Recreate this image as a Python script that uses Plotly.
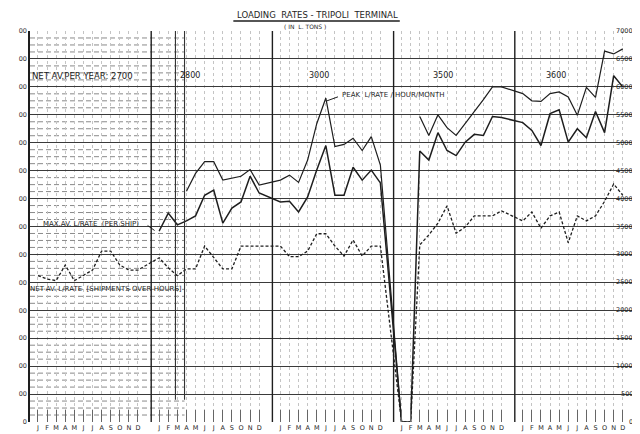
import plotly.graph_objects as go

months = ["J", "F", "M", "A", "M", "J", "J", "A", "S", "O", "N", "D"]
n_years = 5

# Peak loading rate per hour per month (L. tons)
peak = [None] * 12 + \
    [None, None, None, 4130, 4450, 4660, 4660, 4330, 4360, 4400, 4520, 4240] + \
    [4330, 4420, 4290, 4690, 5340, 5800, 4930, 4970, 5080, 4860, 5110, 4600] + \
    [0, None, 5470, 5130, 5500, 5270, 5130, 5340, 5540, 5770, 6000, 6000] + \
    [5880, 5750, 5740, 5880, 5910, 5820, 5490, 5990, 5810, 6640, 6590, 6680]

# Max average loading rate per ship
max_av = [None] * 12 + \
    [3420, 3740, 3530, 3600, 3690, 4060, 4150, 3560, 3830, 3940, 4400, 4100] + \
    [3940, 3950, 3760, 4030, 4510, 4950, 4060, 4060, 4560, 4330, 4510, 4280] + \
    [0, 0, 4850, 4690, 5180, 4860, 4770, 5010, 5150, 5130, 5470, 5450] + \
    [5360, 5220, 4950, 5520, 5590, 5010, 5250, 5090, 5560, 5180, 6200, 6000]

# Net average loading rate (shipments over hours)
net_av = [2620, 2560, 2530, 2810, 2530, 2620, 2720, 3060, 3060, 2810, 2720, 2720] + \
    [2940, 2760, 2620, 2740, 2740, 3150, 2940, 2740, 2740, 3150, 3150, 3150] + \
    [3150, 2960, 2960, 3060, 3370, 3370, 3150, 2970, 3260, 2970, 3150, 3150] + \
    [0, 0, 3170, 3350, 3560, 3870, 3380, 3490, 3690, 3690, 3690, 3780] + \
    [3600, 3760, 3470, 3690, 3760, 3210, 3690, 3600, 3690, 3950, 4260, 4060]

net_per_year = [2700, 2800, 3000, 3500, 3600]
y_ticks = list(range(0, 7001, 500))


def mx(year, month):
    # month slots inside each 12-unit year band
    return year * 12 + 0.79 + 0.9 * month


xs = [mx(y, m) for y in range(n_years) for m in range(12)]
tick_labels = months * n_years

INK = "#1e1e1e"
FONT = "DejaVu Sans"

fig = go.Figure()
fig.add_trace(go.Scatter(x=xs, y=peak, mode="lines", connectgaps=False,
                         line=dict(color=INK, width=1.2), name="Peak"))
fig.add_trace(go.Scatter(x=xs, y=max_av, mode="lines", connectgaps=False,
                         line=dict(color=INK, width=1.5), name="Max av"))
fig.add_trace(go.Scatter(x=xs, y=net_av, mode="lines", connectgaps=False,
                         line=dict(color=INK, width=1.3, dash="3px,2px"), name="Net av"))

shapes = []
# dense dashed horizontal rulings on the left part of the sheet
for k in range(0, 57):
    v = k * 125
    if v % 500 == 0:
        continue
    shapes.append(dict(type="line", xref="x", yref="y", x0=0, x1=15.3, y0=v, y1=v,
                       line=dict(color="#8a8a8a", width=1, dash="5px,3px"), layer="below"))
# year boundaries
for yb in range(1, n_years):
    shapes.append(dict(type="line", xref="x", yref="y", x0=yb * 12, x1=yb * 12,
                       y0=0, y1=7000, line=dict(color=INK, width=1.4)))
for xv in [14.4, 15.3]:
    shapes.append(dict(type="line", xref="x", yref="y", x0=xv, x1=xv,
                       y0=400, y1=7000, line=dict(color="#333", width=1.1)))
# title underline
shapes.append(dict(type="line", xref="paper", yref="paper",
                   x0=(226 - 22) / 608, x1=(393 - 22) / 608,
                   y0=(415 - 13) / 392, y1=(415 - 13) / 392,
                   line=dict(color=INK, width=1.5)))
# leader lines
shapes.append(dict(type="line", xref="paper", yref="paper",
                   x0=(320 - 22) / 608, x1=(331 - 22) / 608,
                   y0=(415 - 93) / 392, y1=(415 - 89) / 392,
                   line=dict(color=INK, width=1)))
shapes.append(dict(type="line", xref="paper", yref="paper",
                   x0=(140 - 22) / 608, x1=(147 - 22) / 608,
                   y0=(415 - 218) / 392, y1=(415 - 223) / 392,
                   line=dict(color=INK, width=1)))


def px_ann(text, px, py, size, xanchor="left", yanchor="middle"):
    return dict(text=text, xref="paper", yref="paper",
                x=(px - 22) / 608, y=(415 - py) / 392,
                xanchor=xanchor, yanchor=yanchor, showarrow=False,
                font=dict(family=FONT, size=size, color=INK))


annotations = [
    px_ann("LOADING  RATES - TRIPOLI  TERMINAL", 310, 7, 8.5, "center"),
    px_ann("( IN  L. TONS )", 298, 18, 6, "center"),
    px_ann("NET AV.PER YEAR: %d" % net_per_year[0], 22, 68, 8.5),
    px_ann(str(net_per_year[1]), 183, 68, 8, "center"),
    px_ann(str(net_per_year[2]), 312, 68, 8, "center"),
    px_ann(str(net_per_year[3]), 436, 68, 8, "center"),
    px_ann(str(net_per_year[4]), 550, 68, 8, "center"),
    px_ann("PEAK  L/RATE / HOUR/MONTH", 333, 87, 7),
    px_ann("MAX.AV. L/RATE  (PER SHIP)", 33, 216, 7),
    px_ann("NET-AV. L/RATE  [SHIPMENTS OVER HOURS]", 20, 282, 7),
]
# right-hand scale labels, written inside the right border
for v in y_ticks:
    annotations.append(dict(text=str(v), xref="paper", yref="y", x=(628 - 22) / 608, y=v,
                            xanchor="right", yanchor="middle", showarrow=False,
                            borderpad=0,
                            font=dict(family=FONT, size=6.5, color=INK)))

fig.update_layout(
    width=640, height=434,
    margin=dict(l=22, r=10, t=23, b=19),
    paper_bgcolor="white", plot_bgcolor="white",
    showlegend=False,
    shapes=shapes, annotations=annotations,
    xaxis=dict(range=[0, 60], tickvals=xs, ticktext=tick_labels,
               showgrid=True, gridcolor="#c4c4c4", griddash="dot", gridwidth=1,
               ticks="inside", ticklen=12, tickcolor="#666", tickwidth=1,
               tickfont=dict(family=FONT, size=6.5, color=INK),
               showline=False, zeroline=False, fixedrange=True, mirror=False),
    yaxis=dict(range=[0, 7000], tickvals=y_ticks,
               ticktext=["0"] + ["00"] * (len(y_ticks) - 1),
               showgrid=True, gridcolor="#3a3a3a", gridwidth=1.2,
               showline=True, linecolor=INK, linewidth=1.5, mirror=True,
               tickfont=dict(family=FONT, size=6.5, color="#333"),
               zeroline=False, fixedrange=True),
)

fig.write_html("out.html")
